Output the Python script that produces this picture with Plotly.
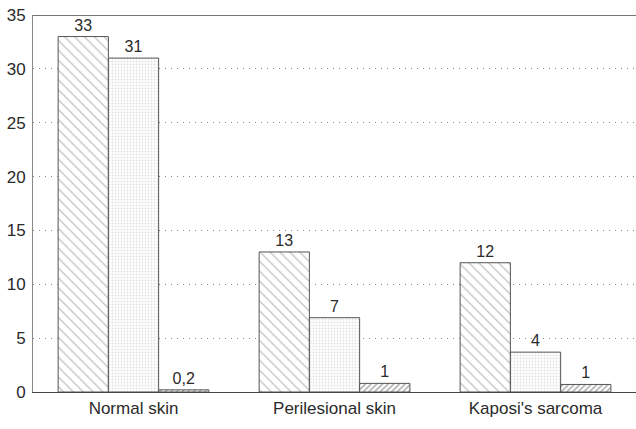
import plotly.graph_objects as go

categories = ["Normal skin", "Perilesional skin", "Kaposi's sarcoma"]
series_a = [33, 13, 12]
series_b = [31, 6.9, 3.7]
series_c = [0.2, 0.8, 0.7]
labels_a = ["33", "13", "12"]
labels_b = ["31", "7", "4"]
labels_c = ["0,2", "1", "1"]
y_ticks = [0, 5, 10, 15, 20, 25, 30, 35]

FONT = "Liberation Sans, Arial, sans-serif"
fig = go.Figure()

def add(vals, labels, shape, size, fg, sol):
    fig.add_trace(go.Bar(
        x=categories, y=vals, text=labels, textposition="outside",
        cliponaxis=False, constraintext="none",
        textfont=dict(family=FONT, size=16, color="#2a2a2a"),
        marker=dict(color="white",
                    line=dict(color="#555555", width=1),
                    pattern=dict(shape=shape, size=size, fgcolor=fg,
                                 bgcolor="white", solidity=sol,
                                 fillmode="overlay")),
        showlegend=False,
    ))

add(series_a, labels_a, "\\", 7, "#666666", 0.15)
add(series_b, labels_b, ".", 3, "#c4c4c4", 0.3)
add(series_c, labels_c, "/", 4, "#444444", 0.35)

fig.add_shape(type="line", xref="paper", yref="y", x0=0, x1=1, y0=35, y1=35,
              line=dict(color="#444444", width=1.5), layer="above")

fig.update_layout(
    width=636, height=429,
    margin=dict(l=33, r=0, t=15, b=37),
    paper_bgcolor="white", plot_bgcolor="white",
    barmode="group", bargap=0.25, bargroupgap=0,
    font=dict(family=FONT, color="#2a2a2a"),
    xaxis=dict(showline=True, linecolor="#444444", linewidth=1.2,
               ticks="", tickfont=dict(size=17, color="#2a2a2a"),
               range=[-0.5, 2.5], automargin=False),
    yaxis=dict(range=[0, 35], tickvals=y_ticks, showline=True,
               linecolor="#888888", linewidth=1, ticks="",
               showgrid=True, gridcolor="#888888", griddash="1px,5px",
               gridwidth=1, zeroline=False, automargin=False,
               ticklabelstandoff=3, ticklabeloverflow="allow",
               tickfont=dict(size=17, color="#2a2a2a")),
)

fig.write_html("out.html", config={"displayModeBar": False},
               post_script="document.body.style.margin='0';document.body.style.overflow='hidden';")
